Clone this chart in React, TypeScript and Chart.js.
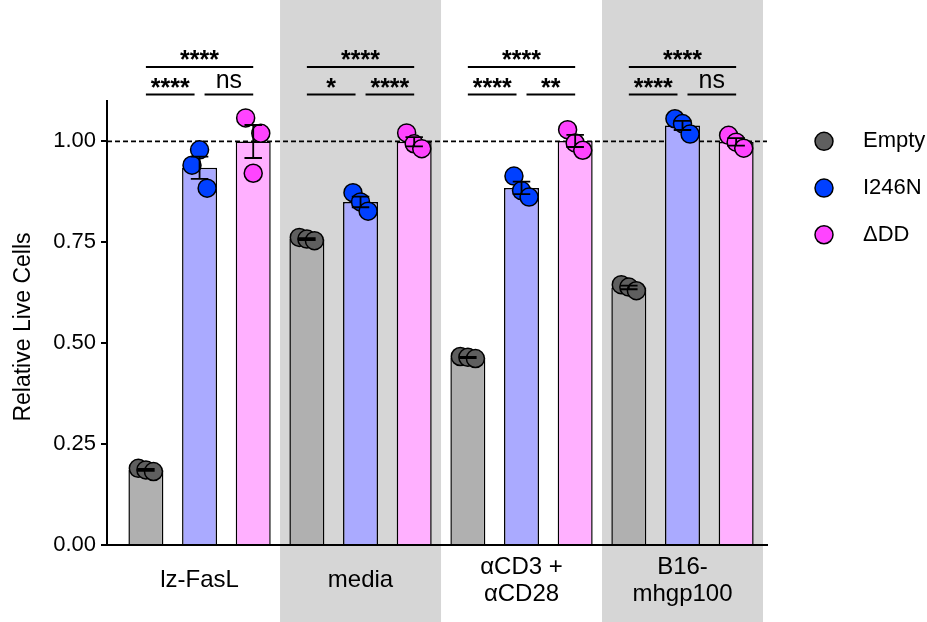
import React, { useEffect, useRef } from "react";
import { Chart, registerables } from "chart.js";

Chart.register(...registerables);

// ---------- data ----------
const CATEGORIES: (string | string[])[] = ["lz-FasL", "media", ["αCD3 +", "αCD28"], ["B16-", "mhgp100"]];
const SERIES = ["Empty", "I246N", "ΔDD"];

// replicate values (3 per condition) for each series, one inner list per category
const EMPTY_REPS = [
  [0.19, 0.186, 0.182],
  [0.762, 0.758, 0.754],
  [0.467, 0.465, 0.462],
  [0.645, 0.639, 0.63],
];
const I246N_REPS = [
  [0.979, 0.941, 0.884],
  [0.873, 0.85, 0.827],
  [0.914, 0.878, 0.862],
  [1.056, 1.044, 1.018],
];
const DDD_REPS = [
  [1.058, 1.02, 0.921],
  [1.021, 0.994, 0.982],
  [1.029, 0.996, 0.978],
  [1.015, 0.998, 0.983],
];

const Y_TICKS = [0, 0.25, 0.5, 0.75, 1.0];
const REFERENCE_LINE = 1.0;

// significance labels per category
const SIG_TOP = ["****", "****", "****", "****"];
const SIG_LEFT = ["****", "*", "****", "****"];
const SIG_RIGHT = ["ns", "****", "**", "ns"];

// ---------- styling / layout ----------
const FONT = "'Liberation Sans', Arial, Helvetica, sans-serif";
const BAR_COLORS = ["#b0b0b0", "#aaaaff", "#ffb0ff"];
const POINT_COLORS = ["#5f5f5f", "#0040ff", "#ff44ff"];
const BAND_COLOR = "#d6d6d6";
const BANDED = [1, 3];
const CAT_PCT = 1.0;
const BAR_PCT = 0.652;
const X_MIN = -0.575;
const X_MAX = 3.525;
const Y_MAX = 1.1;
// horizontal spread of replicate dots (in steps), per series per category
const JITTER_STEP = 0.047;
const JITTER = [
  [[-1, 0, 1], [-1, 0, 1], [-1, 0, 1], [-1, 0, 1]],
  [[0, -1, 1], [-1, 0, 1], [-1, 0, 1], [-1, 0, 1]],
  [[-1, 1, 0], [-1, 0, 1], [-1, 0, 1], [-1, 0, 1]],
];
const BRACKET_TOP = 1.184;
const BRACKET_LOW = 1.116;

const REPS = [EMPTY_REPS, I246N_REPS, DDD_REPS];

const mean = (a: number[]) => a.reduce((s, v) => s + v, 0) / a.length;
const sem = (a: number[]) => {
  const m = mean(a);
  const sd = Math.sqrt(a.reduce((s, v) => s + (v - m) ** 2, 0) / (a.length - 1));
  return sd / Math.sqrt(a.length);
};
const slot = CAT_PCT / SERIES.length;
const barCenter = (c: number, s: number) => c + (s - (SERIES.length - 1) / 2) * slot;

const decorPlugin = {
  id: "decor",
  beforeDraw(chart: any) {
    const { ctx, scales } = chart;
    const x = scales.x;
    ctx.save();
    ctx.fillStyle = BAND_COLOR;
    BANDED.forEach((i) => {
      const l = x.getPixelForValue(i - 0.5);
      const r = x.getPixelForValue(i + 0.5);
      ctx.fillRect(l, 0, r - l, chart.height);
    });
    ctx.restore();
  },
  beforeDatasetsDraw(chart: any) {
    const { ctx, chartArea, scales } = chart;
    const y = scales.y.getPixelForValue(REFERENCE_LINE);
    ctx.save();
    ctx.strokeStyle = "#000";
    ctx.lineWidth = 1.8;
    ctx.setLineDash([5, 3]);
    ctx.beginPath();
    ctx.moveTo(chartArea.left, y);
    ctx.lineTo(chartArea.right, y);
    ctx.stroke();
    ctx.restore();
  },
  afterDatasetsDraw(chart: any) {
    const { ctx, scales } = chart;
    const x = scales.x;
    const yS = scales.y;
    const px = x.getPixelForValue(1) - x.getPixelForValue(0);
    const capHalf = (px * slot * BAR_PCT) / 4;
    ctx.save();
    ctx.strokeStyle = "#000";
    ctx.lineWidth = 1.8;
    REPS.forEach((reps, s) => {
      reps.forEach((vals, c) => {
        const m = mean(vals);
        const e = sem(vals);
        const cx = x.getPixelForValue(barCenter(c, s));
        const yt = yS.getPixelForValue(m + e);
        const yb = yS.getPixelForValue(m - e);
        ctx.beginPath();
        ctx.moveTo(cx, yt);
        ctx.lineTo(cx, yb);
        ctx.moveTo(cx - capHalf, yt);
        ctx.lineTo(cx + capHalf, yt);
        ctx.moveTo(cx - capHalf, yb);
        ctx.lineTo(cx + capHalf, yb);
        ctx.stroke();
      });
    });
    ctx.restore();
  },
  afterDraw(chart: any) {
    const { ctx, scales, chartArea } = chart;
    const x = scales.x;
    const yS = scales.y;
    const yTop = yS.getPixelForValue(BRACKET_TOP);
    const yLow = yS.getPixelForValue(BRACKET_LOW);
    ctx.save();
    ctx.strokeStyle = "#000";
    ctx.fillStyle = "#000";
    ctx.lineWidth = 2;
    ctx.textAlign = "center";
    ctx.textBaseline = "alphabetic";
    const drawLabel = (t: string, cx: number, lineY: number) => {
      if (t === "ns") {
        ctx.font = `25px ${FONT}`;
        ctx.fillText(t, cx, lineY - 7);
      } else {
        ctx.font = `bold 25px ${FONT}`;
        ctx.fillText(t, cx, lineY + 1);
      }
    };
    CATEGORIES.forEach((_, c) => {
      const x0 = x.getPixelForValue(barCenter(c, 0));
      const x1 = x.getPixelForValue(barCenter(c, 1));
      const x2 = x.getPixelForValue(barCenter(c, 2));
      ctx.beginPath();
      ctx.moveTo(x0, yTop);
      ctx.lineTo(x2, yTop);
      ctx.moveTo(x0, yLow);
      ctx.lineTo(x1 - 5, yLow);
      ctx.moveTo(x1 + 5, yLow);
      ctx.lineTo(x2, yLow);
      ctx.stroke();
      drawLabel(SIG_TOP[c], (x0 + x2) / 2, yTop);
      drawLabel(SIG_LEFT[c], (x0 + x1 - 5) / 2, yLow);
      drawLabel(SIG_RIGHT[c], (x1 + 5 + x2) / 2, yLow);
    });

    // y-axis title
    ctx.save();
    ctx.translate(24, (chartArea.top + chartArea.bottom) / 2 + 4);
    ctx.rotate(-Math.PI / 2);
    ctx.font = `23px ${FONT}`;
    ctx.textAlign = "center";
    ctx.textBaseline = "middle";
    ctx.fillText("Relative Live Cells", 0, 0);
    ctx.restore();

    // legend
    const lx = chartArea.right + 57;
    const ly0 = yS.getPixelForValue(REFERENCE_LINE);
    SERIES.forEach((name, s) => {
      const ly = ly0 + s * 46.7;
      ctx.beginPath();
      ctx.arc(lx, ly, 9, 0, Math.PI * 2);
      ctx.fillStyle = POINT_COLORS[s];
      ctx.fill();
      ctx.lineWidth = 1.5;
      ctx.strokeStyle = "#000";
      ctx.stroke();
      ctx.fillStyle = "#000";
      ctx.font = `22px ${FONT}`;
      ctx.textAlign = "left";
      ctx.textBaseline = "middle";
      ctx.fillText(name, lx + 39, ly);
    });
    ctx.restore();
  },
};

export default function App() {
  const ref = useRef<HTMLCanvasElement>(null);
  useEffect(() => {
    const canvas = ref.current!;
    const scatterSets = REPS.map((reps, s) => ({
      type: "scatter" as const,
      label: SERIES[s] + " points",
      order: 0,
      data: reps.flatMap((vals, c) =>
        vals.map((v, k) => ({ x: barCenter(c, s) + JITTER[s][c][k] * JITTER_STEP, y: v }))
      ),
      pointRadius: 9,
      pointHoverRadius: 9,
      pointBackgroundColor: POINT_COLORS[s],
      pointBorderColor: "#000",
      pointBorderWidth: 1.5,
      showLine: false,
    }));
    const barSets = REPS.map((reps, s) => ({
      type: "bar" as const,
      label: SERIES[s],
      order: 1,
      data: reps.map((vals, c) => ({ x: c, y: mean(vals) })),
      backgroundColor: BAR_COLORS[s],
      borderColor: "#000",
      borderWidth: 1.5,
      categoryPercentage: CAT_PCT,
      barPercentage: BAR_PCT,
    }));
    const chart = new Chart(canvas, {
      type: "bar",
      data: { datasets: [...scatterSets, ...barSets] as any },
      options: {
        responsive: false,
        animation: false,
        devicePixelRatio: 1,
        events: [],
        layout: { padding: { left: 0, right: 160, top: 101, bottom: 0 } },
        plugins: { legend: { display: false }, tooltip: { enabled: false } },
        scales: {
          x: {
            type: "linear",
            min: X_MIN,
            max: X_MAX,
            offset: false,
            z: 1,
            afterBuildTicks: (s: any) => {
              s.ticks = CATEGORIES.map((_, i) => ({ value: i }));
            },
            afterFit: (s: any) => {
              s.height = 77;
            },
            grid: { display: false, drawTicks: false, tickLength: 0 },
            border: { display: true, color: "#000", width: 2 },
            ticks: {
              callback: (v: any) => CATEGORIES[Math.round(v)] as any,
              font: { family: FONT, size: 24, lineHeight: 1.12 },
              color: "#000",
              crossAlign: "center",
              padding: 22,
              maxRotation: 0,
              autoSkip: false,
            },
          } as any,
          y: {
            type: "linear",
            min: 0,
            max: Y_MAX,
            z: 1,
            afterBuildTicks: (s: any) => {
              s.ticks = Y_TICKS.map((v) => ({ value: v }));
            },
            afterFit: (s: any) => {
              s.width = 107;
            },
            grid: { drawOnChartArea: false, drawTicks: true, tickLength: 6, color: "#000", lineWidth: 2 },
            border: { display: true, color: "#000", width: 2 },
            ticks: {
              callback: (v: any) => Number(v).toFixed(2),
              font: { family: FONT, size: 22 },
              color: "#000",
              padding: 5,
            },
          } as any,
        },
      },
      plugins: [decorPlugin],
    });
    return () => chart.destroy();
  }, []);
  return (
    <div style={{ position: "absolute", left: 0, top: 0, width: 927, height: 622, background: "#fff" }}>
      <canvas ref={ref} width={927} height={622} style={{ display: "block", width: 927, height: 622 }} />
    </div>
  );
}
